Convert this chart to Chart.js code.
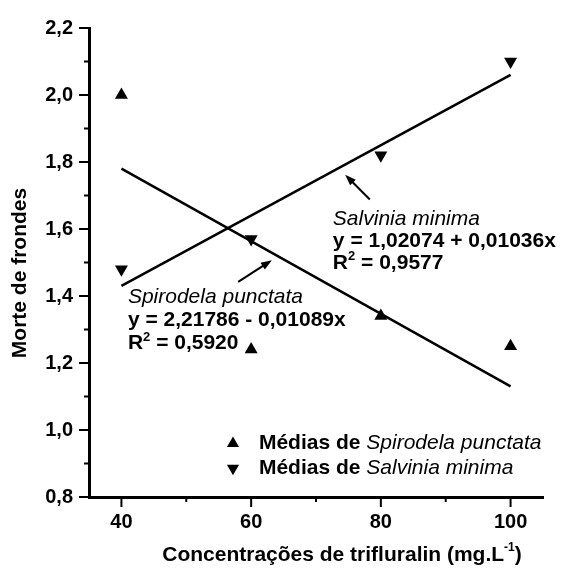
<!DOCTYPE html>
<html lang="pt">
<head>
<meta charset="UTF-8">
<title>Morte de frondes</title>
<script src="https://cdn.jsdelivr.net/npm/chart.js"></script>
<style>
  body { margin: 0; background: #fff; }
  canvas { display: block; }
</style>
</head>
<body>
<canvas id="grafico" width="561" height="568"></canvas>
<script>
const concentracoes = [40, 60, 80, 100];
const mediasSpirodela = [2.00, 1.24, 1.34, 1.25];
const mediasSalvinia = [1.48, 1.57, 1.82, 2.10];
const retaX = [40, 100];
const retaSpirodela = [1.78, 1.13];
const retaSalvinia = [1.43, 2.06];
const xTicks = [40, 60, 80, 100];
const xMinor = [50, 70, 90];
const yTicks = [0.8, 1.0, 1.2, 1.4, 1.6, 1.8, 2.0, 2.2];
const yMinor = [0.9, 1.1, 1.3, 1.5, 1.7, 1.9, 2.1];

const FAM = "'Liberation Sans', Arial, sans-serif";
const negrito = tam => 'bold ' + tam + 'px ' + FAM;
const italico = tam => 'italic ' + tam + 'px ' + FAM;

function pares(xs, ys) {
  return xs.map((x, i) => ({ x: x, y: ys[i] }));
}

// escreve pedaços de texto com fontes diferentes numa linha
function escreve(ctx, x, y, partes) {
  ctx.textBaseline = 'middle';
  ctx.textAlign = 'left';
  for (const [t, f, dy] of partes) {
    ctx.font = f;
    ctx.fillText(t, x, y + (dy || 0));
    x += ctx.measureText(t).width;
  }
}

function seta(ctx, x1, y1, x2, y2) {
  const ang = Math.atan2(y2 - y1, x2 - x1);
  ctx.lineWidth = 2;
  ctx.beginPath();
  ctx.moveTo(x1, y1);
  ctx.lineTo(x2 - 6 * Math.cos(ang), y2 - 6 * Math.sin(ang));
  ctx.stroke();
  ctx.beginPath();
  ctx.moveTo(x2, y2);
  ctx.lineTo(x2 - 11 * Math.cos(ang) + 4 * Math.sin(ang), y2 - 11 * Math.sin(ang) - 4 * Math.cos(ang));
  ctx.lineTo(x2 - 11 * Math.cos(ang) - 4 * Math.sin(ang), y2 - 11 * Math.sin(ang) + 4 * Math.cos(ang));
  ctx.closePath();
  ctx.fill();
}

const extras = {
  id: 'extras',
  afterDraw(chart) {
    const ctx = chart.ctx;
    const sx = chart.scales.x, sy = chart.scales.y;
    const px = v => sx.getPixelForValue(v);
    const py = v => sy.getPixelForValue(v);
    ctx.save();
    ctx.fillStyle = '#000';
    ctx.strokeStyle = '#000';

    // marcas dos eixos
    ctx.lineWidth = 2;
    ctx.beginPath();
    yTicks.forEach(v => { ctx.moveTo(sx.left - 10, py(v)); ctx.lineTo(sx.left, py(v)); });
    yMinor.forEach(v => { ctx.moveTo(sx.left - 5, py(v)); ctx.lineTo(sx.left, py(v)); });
    xTicks.forEach(v => { ctx.moveTo(px(v), sy.bottom); ctx.lineTo(px(v), sy.bottom + 10); });
    xMinor.forEach(v => { ctx.moveTo(px(v), sy.bottom); ctx.lineTo(px(v), sy.bottom + 5); });
    ctx.stroke();

    // títulos dos eixos
    ctx.save();
    ctx.translate(20, 273);
    ctx.rotate(-Math.PI / 2);
    ctx.font = negrito(21);
    ctx.textAlign = 'center';
    ctx.textBaseline = 'middle';
    ctx.fillText('Morte de frondes', 0, 0);
    ctx.restore();

    const partesX = [
      ['Concentrações de trifluralin (mg.L', negrito(21)],
      ['-1', negrito(12), -7],
      [')', negrito(21)]
    ];
    let larg = 0;
    partesX.forEach(([t, f]) => { ctx.font = f; larg += ctx.measureText(t).width; });
    escreve(ctx, 342 - larg / 2, 555, partesX);

    // equações
    let x0 = px(72.6);
    escreve(ctx, x0, py(1.629), [['Salvinia minima', italico(21)]]);
    escreve(ctx, x0, py(1.564), [['y = 1,02074 + 0,01036x', negrito(21)]]);
    escreve(ctx, x0, py(1.499), [['R', negrito(21)], ['2', negrito(13), -6], [' = 0,9577', negrito(21)]]);

    x0 = px(41.0);
    escreve(ctx, x0, py(1.398), [['Spirodela punctata', italico(21)]]);
    escreve(ctx, x0, py(1.327), [['y = 2,21786 - 0,01089x', negrito(21)]]);
    escreve(ctx, x0, py(1.259), [['R', negrito(21)], ['2', negrito(13), -6], [' = 0,5920', negrito(21)]]);

    seta(ctx, px(78.3), py(1.688), px(74.5), py(1.762));
    seta(ctx, px(58.0), py(1.442), px(63.2), py(1.507));

    // legenda
    const lx = px(57.2), tx = px(61.2);
    Chart.helpers.drawPoint(ctx, { pointStyle: 'triangle', rotation: 0, radius: 7, borderWidth: 0 }, lx, py(0.96));
    Chart.helpers.drawPoint(ctx, { pointStyle: 'triangle', rotation: 180, radius: 7, borderWidth: 0 }, lx, py(0.886));
    escreve(ctx, tx, py(0.96), [['Médias de ', negrito(21)], ['Spirodela punctata', italico(21)]]);
    escreve(ctx, tx, py(0.886), [['Médias de ', negrito(21)], ['Salvinia minima', italico(21)]]);

    ctx.restore();
  }
};

new Chart(document.getElementById('grafico'), {
  type: 'scatter',
  data: {
    datasets: [
      {
        label: 'Médias de Spirodela punctata',
        data: pares(concentracoes, mediasSpirodela),
        pointStyle: 'triangle',
        pointRadius: 7.5,
        pointBorderWidth: 0,
        pointBackgroundColor: '#000'
      },
      {
        label: 'Médias de Salvinia minima',
        data: pares(concentracoes, mediasSalvinia),
        pointStyle: 'triangle',
        pointRotation: 180,
        pointRadius: 7.5,
        pointBorderWidth: 0,
        pointBackgroundColor: '#000'
      },
      {
        label: 'Spirodela punctata',
        data: pares(retaX, retaSpirodela),
        showLine: true,
        pointRadius: 0,
        borderColor: '#000',
        borderWidth: 2.5
      },
      {
        label: 'Salvinia minima',
        data: pares(retaX, retaSalvinia),
        showLine: true,
        pointRadius: 0,
        borderColor: '#000',
        borderWidth: 2.5
      }
    ]
  },
  options: {
    responsive: false,
    animation: false,
    layout: { padding: { top: 24, right: 18, left: 0, bottom: 0 } },
    plugins: { legend: { display: false }, tooltip: { enabled: false } },
    scales: {
      x: {
        type: 'linear',
        min: 35,
        max: 105,
        afterBuildTicks: s => { s.ticks = xTicks.map(v => ({ value: v })); },
        afterFit: s => { s.height = 71; },
        grid: { display: true, drawOnChartArea: false, drawTicks: false },
        border: { color: '#000', width: 3 },
        ticks: { color: '#000', font: { family: FAM, size: 20, weight: 'bold' }, padding: 13, maxRotation: 0 }
      },
      y: {
        min: 0.8,
        max: 2.2,
        afterBuildTicks: s => { s.ticks = yTicks.map(v => ({ value: v })); },
        afterFit: s => { s.width = 89; },
        grid: { display: true, drawOnChartArea: false, drawTicks: false },
        border: { color: '#000', width: 3 },
        ticks: {
          color: '#000',
          font: { family: FAM, size: 20, weight: 'bold' },
          padding: 16,
          callback: v => v.toFixed(1).replace('.', ',')
        }
      }
    }
  },
  plugins: [extras]
});
</script>
</body>
</html>
